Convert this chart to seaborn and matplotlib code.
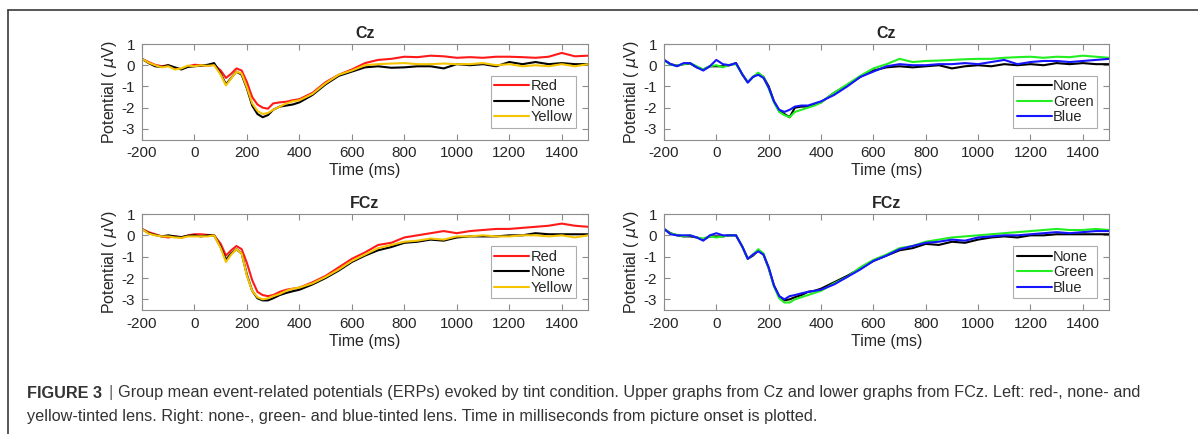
import numpy as np
import pandas as pd
import seaborn as sns
import matplotlib
matplotlib.use("Agg")
import matplotlib.pyplot as plt
from matplotlib.lines import Line2D

# sample times (ms)
times = [-200, -175, -150, -125, -100, -75, -50, -25, 0, 25, 50, 75, 100, 120, 140,
         160, 180, 200, 220, 240, 260, 280, 300, 325, 350, 375, 400, 450, 500, 550,
         600, 650, 700, 750, 800, 850, 900, 950, 1000, 1050, 1100, 1150, 1200, 1250,
         1300, 1350, 1400, 1450, 1500]

# Cz, left panel
cz_red = [0.30, 0.15, 0.02, -0.05, 0.00, -0.15, -0.18, -0.05, 0.02, 0.00, -0.02, 0.02, -0.25, -0.60, -0.40,
          -0.15, -0.25, -0.80, -1.50, -1.85, -2.00, -2.05, -1.80, -1.75, -1.72, -1.65, -1.60, -1.30, -0.80, -0.45,
          -0.20, 0.10, 0.25, 0.30, 0.40, 0.38, 0.45, 0.42, 0.35, 0.38, 0.35, 0.40, 0.40, 0.38,
          0.35, 0.40, 0.58, 0.42, 0.45]
cz_none = [0.30, 0.10, -0.05, -0.08, 0.00, -0.10, -0.20, -0.08, -0.05, -0.02, 0.02, 0.10, -0.40, -0.90, -0.60,
           -0.30, -0.45, -1.10, -1.90, -2.30, -2.45, -2.35, -2.10, -1.95, -1.90, -1.85, -1.75, -1.40, -0.90, -0.50,
           -0.30, -0.10, -0.05, -0.12, -0.10, -0.05, -0.05, -0.15, 0.05, 0.00, 0.05, -0.05, 0.15, 0.05,
           0.15, 0.05, 0.10, 0.05, 0.05]
cz_yellow = [0.30, 0.12, 0.00, -0.10, -0.05, -0.20, -0.15, -0.02, -0.05, 0.00, -0.03, 0.00, -0.45, -0.95, -0.62,
             -0.30, -0.40, -1.05, -1.80, -2.15, -2.30, -2.25, -2.10, -1.95, -1.80, -1.70, -1.65, -1.35, -0.85, -0.45,
             -0.25, 0.00, 0.05, 0.08, 0.10, 0.05, 0.05, 0.08, 0.05, 0.05, 0.10, 0.00, 0.05, -0.05,
             0.00, -0.05, 0.05, -0.05, 0.05]

# Cz, right panel
cz_none2 = [0.25, 0.05, -0.02, 0.05, 0.08, -0.10, -0.20, -0.05, -0.05, -0.05, 0.00, 0.10, -0.45, -0.80, -0.55,
            -0.40, -0.55, -1.00, -1.70, -2.15, -2.30, -2.45, -2.00, -1.95, -1.95, -1.85, -1.75, -1.30, -0.95, -0.55,
            -0.25, -0.10, -0.05, -0.10, -0.05, 0.00, -0.15, -0.05, 0.00, -0.05, 0.05, 0.00, 0.05, 0.00,
            0.10, 0.05, 0.10, 0.05, 0.05]
cz_green = [0.25, 0.02, -0.02, 0.05, 0.10, -0.05, -0.20, -0.05, 0.00, -0.10, 0.02, 0.05, -0.45, -0.80, -0.55,
            -0.35, -0.55, -1.10, -1.75, -2.20, -2.35, -2.45, -2.20, -2.10, -2.00, -1.90, -1.75, -1.30, -0.90, -0.50,
            -0.15, 0.05, 0.30, 0.15, 0.20, 0.22, 0.25, 0.28, 0.30, 0.30, 0.35, 0.38, 0.40, 0.35,
            0.40, 0.38, 0.45, 0.40, 0.35]
cz_blue = [0.25, 0.05, -0.05, 0.10, 0.10, -0.10, -0.25, -0.05, 0.25, 0.05, 0.00, 0.10, -0.45, -0.82, -0.55,
           -0.45, -0.60, -1.05, -1.70, -2.10, -2.20, -2.10, -1.95, -1.90, -1.90, -1.80, -1.70, -1.40, -1.00, -0.55,
           -0.30, -0.05, 0.05, 0.00, 0.00, 0.05, 0.05, 0.10, 0.05, 0.15, 0.25, 0.05, 0.15, 0.20,
           0.20, 0.15, 0.20, 0.25, 0.30]

# FCz, left panel
fcz_red = [0.30, 0.15, 0.05, -0.05, -0.10, -0.05, -0.12, 0.00, 0.05, 0.05, 0.02, 0.00, -0.40, -0.95, -0.70,
           -0.50, -0.65, -1.30, -2.10, -2.65, -2.80, -2.85, -2.80, -2.65, -2.55, -2.50, -2.45, -2.20, -1.90, -1.50,
           -1.10, -0.80, -0.45, -0.35, -0.10, 0.00, 0.10, 0.20, 0.10, 0.20, 0.25, 0.30, 0.30, 0.35,
           0.40, 0.45, 0.55, 0.45, 0.40]
fcz_none = [0.30, 0.10, 0.02, -0.05, 0.00, -0.05, -0.08, -0.02, 0.00, -0.05, 0.00, 0.00, -0.55, -1.15, -0.85,
            -0.65, -0.85, -1.85, -2.60, -2.95, -3.05, -3.05, -2.95, -2.80, -2.70, -2.62, -2.55, -2.30, -2.00, -1.65,
            -1.25, -0.95, -0.70, -0.55, -0.35, -0.30, -0.20, -0.25, -0.10, -0.05, -0.05, -0.05, 0.00, 0.00,
            0.10, 0.05, 0.05, 0.05, 0.05]
fcz_yellow = [0.30, 0.08, 0.00, -0.05, -0.05, -0.10, -0.12, -0.05, -0.05, -0.05, -0.05, 0.00, -0.60, -1.25, -0.90,
              -0.65, -0.85, -1.90, -2.60, -2.90, -3.00, -2.95, -2.85, -2.75, -2.60, -2.50, -2.45, -2.25, -1.95, -1.60,
              -1.20, -0.90, -0.60, -0.45, -0.30, -0.25, -0.15, -0.20, -0.05, -0.05, 0.00, -0.05, -0.05, 0.00,
              0.00, -0.05, 0.00, -0.10, 0.00]

# FCz, right panel
fcz_none2 = [0.30, 0.10, 0.00, -0.05, -0.05, -0.10, -0.20, -0.05, -0.05, -0.05, 0.00, 0.00, -0.55, -1.10, -0.95,
             -0.70, -0.90, -1.55, -2.35, -2.85, -3.05, -3.00, -2.90, -2.80, -2.65, -2.60, -2.50, -2.20, -1.90, -1.55,
             -1.20, -0.95, -0.70, -0.60, -0.40, -0.45, -0.30, -0.35, -0.20, -0.10, -0.05, -0.10, 0.00, 0.00,
             0.05, 0.05, 0.05, 0.05, 0.05]
fcz_green = [0.30, 0.08, 0.02, -0.05, 0.00, -0.10, -0.15, -0.05, -0.10, -0.05, 0.00, 0.00, -0.55, -1.10, -0.90,
             -0.65, -0.85, -1.55, -2.40, -2.95, -3.15, -3.15, -3.00, -2.90, -2.80, -2.70, -2.60, -2.25, -1.95, -1.50,
             -1.15, -0.90, -0.60, -0.50, -0.30, -0.20, -0.10, -0.05, 0.00, 0.05, 0.10, 0.15, 0.20, 0.25,
             0.30, 0.25, 0.25, 0.30, 0.25]
fcz_blue = [0.30, 0.05, 0.00, 0.00, 0.00, -0.10, -0.25, 0.00, 0.10, 0.00, 0.00, 0.00, -0.55, -1.10, -0.90,
            -0.75, -0.90, -1.50, -2.35, -2.85, -3.00, -2.85, -2.80, -2.72, -2.65, -2.60, -2.55, -2.30, -1.95, -1.60,
            -1.20, -0.95, -0.65, -0.50, -0.35, -0.30, -0.20, -0.25, -0.10, -0.05, 0.00, 0.00, 0.05, 0.10,
            0.15, 0.10, 0.15, 0.20, 0.20]

left_labels = ['Red', 'None', 'Yellow']
right_labels = ['None', 'Green', 'Blue']
left_colors = ['#ff1a1a', '#000000', '#f5c400']
right_colors = ['#000000', '#22ee22', '#1515ff']

x_ticks = [-200, 0, 200, 400, 600, 800, 1000, 1200, 1400]
y_ticks = [-3, -2, -1, 0, 1]


def long_df(labels, series):
    frames = []
    for lab, vals in zip(labels, series):
        frames.append(pd.DataFrame({'time': times, 'uv': vals, 'cond': lab}))
    return pd.concat(frames, ignore_index=True)


sns.set_style("white")
plt.rcParams['font.family'] = ['Liberation Sans', 'DejaVu Sans']
plt.rcParams['mathtext.fontset'] = 'dejavusans'
plt.rcParams['axes.unicode_minus'] = False

fig = plt.figure(figsize=(11.98, 4.34), dpi=100)
W, H = 1198.0, 434.0

panels = [
    ((142, 44, 588, 139.5), 'Cz', left_labels, left_colors, [cz_red, cz_none, cz_yellow]),
    ((664, 44, 1109, 139.5), 'Cz', right_labels, right_colors, [cz_none2, cz_green, cz_blue]),
    ((142, 214, 588, 310), 'FCz', left_labels, left_colors, [fcz_red, fcz_none, fcz_yellow]),
    ((664, 214, 1109, 310), 'FCz', right_labels, right_colors, [fcz_none2, fcz_green, fcz_blue]),
]

spine_col = '#8c8c8c'
text_col = '#262626'

for (x0, y0, x1, y1), title, labels, colors, series in panels:
    ax = fig.add_axes([x0 / W, 1 - y1 / H, (x1 - x0) / W, (y1 - y0) / H])
    df = long_df(labels, series)
    sns.lineplot(data=df, x='time', y='uv', hue='cond', hue_order=labels,
                 palette=colors, linewidth=1.5, ax=ax, estimator=None, sort=False)
    ax.set_xlim(-200, 1500)
    ax.set_ylim(-3.5, 1)
    ax.set_xticks(x_ticks)
    ax.set_yticks(y_ticks)
    ax.tick_params(direction='in', length=4, width=0.8, color=spine_col,
                   labelsize=11, labelcolor=text_col, top=True, right=True,
                   bottom=True, left=True, pad=5)
    for s in ax.spines.values():
        s.set_color(spine_col)
        s.set_linewidth(0.8)
    ax.set_xlabel('Time (ms)', fontsize=11.5, color=text_col, labelpad=2)
    ax.set_ylabel(r'Potential ( $\mu$V)', fontsize=11.5, color=text_col, labelpad=2)
    ax.set_title(title, fontsize=11.5, fontweight='bold', color=text_col, pad=4)
    leg = ax.legend(loc='lower right', fontsize=10.5, handlelength=2.4, handletextpad=0.1,
                    borderpad=0.25, labelspacing=0.1, frameon=True, fancybox=False,
                    borderaxespad=0.8)
    leg.get_frame().set_edgecolor('#999999')
    leg.get_frame().set_linewidth(0.8)
    for t in leg.get_texts():
        t.set_color(text_col)

# outer frame lines
fig.add_artist(Line2D([8 / W, 1.0], [1 - 10 / H, 1 - 10 / H], transform=fig.transFigure,
                      color='#3a3a3a', linewidth=1.2))
fig.add_artist(Line2D([8 / W, 8 / W], [0.0, 1 - 10 / H], transform=fig.transFigure,
                      color='#3a3a3a', linewidth=1.2))

# caption
cap_col = '#333333'
cap_fs = 11.7
renderer = fig.canvas.get_renderer()
t1 = fig.text(27 / W, 1 - 393 / H, 'FIGURE 3', fontsize=cap_fs, fontweight='bold',
              color=cap_col, va='center', ha='left')
bb = t1.get_window_extent(renderer)
t2 = fig.text((bb.x1 + 6) / W, 1 - 393 / H, '|', fontsize=cap_fs, color='#666666',
              va='center', ha='left')
bb2 = t2.get_window_extent(renderer)
fig.text((bb2.x1 + 6) / W, 1 - 393 / H,
         'Group mean event-related potentials (ERPs) evoked by tint condition. Upper graphs from Cz and '
         'lower graphs from FCz. Left: red-, none- and',
         fontsize=cap_fs, color=cap_col, va='center', ha='left')
fig.text(27 / W, 1 - 417 / H,
         'yellow-tinted lens. Right: none-, green- and blue-tinted lens. Time in milliseconds from '
         'picture onset is plotted.',
         fontsize=cap_fs, color=cap_col, va='center', ha='left')

fig.savefig('out.png', dpi=100)
